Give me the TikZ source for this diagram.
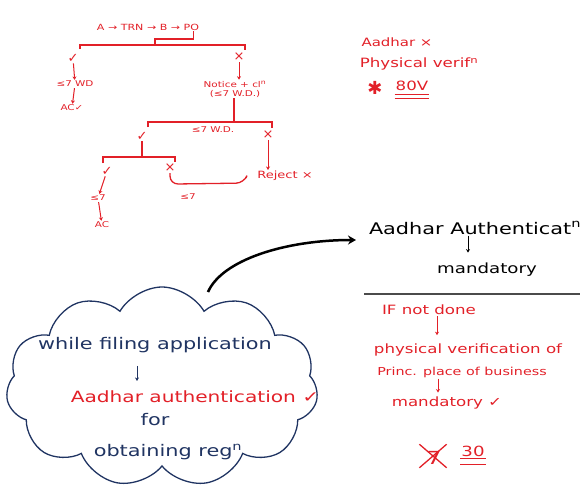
\documentclass[tikz,border=0pt]{standalone}
\usepackage{fontspec}
\setmainfont{DejaVu Sans}
\newfontfamily\hand[FakeStretch=1.3]{DejaVu Sans}
\usetikzlibrary{shapes.symbols,arrows.meta}
\definecolor{inkred}{RGB}{226,32,40}
\definecolor{inkblue}{RGB}{32,52,98}
\definecolor{inkgray}{RGB}{75,75,75}

\begin{document}
\begin{tikzpicture}[x=1pt, y=-1pt,
    treetxt/.style={text=inkred, inner sep=1pt, font=\hand\fontsize{8}{9}\selectfont},
    treemark/.style={text=inkred, inner sep=1pt, font=\fontsize{13}{14}\selectfont},
    rednote/.style={text=inkred, inner sep=1pt, font=\hand\fontsize{12.8}{14}\selectfont},
    blacknote/.style={text=black, inner sep=1pt, font=\hand\fontsize{16}{17}\selectfont},
    bluenote/.style={text=inkblue, inner sep=1pt, font=\hand\fontsize{16}{17}\selectfont},
    treeline/.style={draw=inkred, line width=1.3pt},
    redtip/.style={draw=inkred, line width=1pt, -{Stealth[length=3.5pt,width=4pt]}},
    blacktip/.style={draw=black, line width=0.9pt, -{Stealth[length=3.5pt,width=4pt]}},
    bluetip/.style={draw=inkblue, line width=0.9pt, -{Stealth[length=3.5pt,width=4pt]}}
]
\useasboundingbox (0,0) rectangle (585,493);

% tree
\node[treetxt, font=\hand\fontsize{8.5}{9}\selectfont] (chain) at (148,27) {A → TRN → B → PO};
\draw[treeline] (80,49) -- (80,45) -- (245,45) -- (245,50);
\draw[treeline] (155,45) -- (155,39) -| ([xshift=-7pt]chain.south east);

\node[treemark] (ok1) at (73,58) {✓};
\node[treetxt] (wd1) at (75,84) {≤7 WD};
\node[treetxt] (ac1) at (72,108) {AC✓};
\draw[redtip] (ok1) -- (wd1);
\draw[redtip] (wd1) -- (ac1);

\node[treemark] (no1) at (239,57) {×};
\node[treetxt, align=center] (notice) at (235,89) {Notice + cl\textsuperscript{n}\\(≤7 W.D.)};
\draw[redtip] (no1) -- (no1 |- notice.north);
\draw[treeline] (notice.south -| 234,0) -- (234,122);

\draw[treeline] (148,127) -- (148,122) -- (272,122) -- (272,128);
\node[treetxt] (wd2) at (213,130) {≤7 W.D.};
\node[treemark] (ok2) at (142,136) {✓};
\node[treemark] (no2) at (268,135) {×};
\node[treetxt, font=\hand\fontsize{10}{11}\selectfont] (reject) at (285,176) {Reject ×};
\draw[redtip] (no2) -- (no2 |- reject.north);

\draw[treeline] (ok2.south) -- (ok2.south |- 0,157);
\draw[treeline] (103,163) -- (103,157) -- (175,157) -- (175,162);
\node[treemark] (ok3) at (107,171) {✓};
\node[treemark] (no3) at (170,168) {×};
\node[treetxt] (le7) at (98,198) {≤7};
\node[treetxt] (ac2) at (102,225) {AC};
\draw[redtip] (ok3) -- (le7);
\draw[redtip] (le7) -- (ac2);
\draw[treeline, rounded corners=8pt] (no3.south) -- ++(0,11) -- ++(74,-1) -- ++(2,-5);
\node[treetxt] (le7b) at (188,197) {≤7};

% top right
\node[rednote, font=\hand\fontsize{11.5}{13}\selectfont] (aadharx) at (397,42) {Aadhar ×};
\node[rednote] (physver) at (419,64) {Physical verif\textsuperscript{n}};
\node[rednote, font=\fontsize{18}{19}\selectfont] (star) at (375,88) {✱};
\node[rednote] (eighty) at (412,86) {80V};
\draw[treeline, line width=1pt] ([yshift=-2pt]eighty.south west) -- ([yshift=-2pt]eighty.south east);
\draw[treeline, line width=1pt] ([yshift=-6pt]eighty.south west) -- ([yshift=-6pt]eighty.south east);

% middle right
\node[blacknote] (auth) at (475,228) {Aadhar Authenticat\textsuperscript{n}};
\node[blacknote, font=\hand\fontsize{14}{15}\selectfont] (mand) at (487,270) {mandatory};
\draw[blacktip] ([xshift=-7pt]auth.south) -- ++(0,17);
\draw[inkgray, line width=2pt] (364,294) -- (580,294);

\node[rednote] (ifnot) at (429,310) {IF not done};
\node[rednote] (physv) at (468,350) {physical verification of};
\node[rednote, font=\hand\fontsize{11}{12}\selectfont] (princ) at (462,372) {Princ. place of business};
\node[rednote] (mand2) at (447,403) {mandatory ✓};
\draw[redtip] ([xshift=8pt]ifnot.south) -- ++(0,19);
\draw[redtip] ([xshift=-24pt]princ.south) -- ++(0,14);
\node[rednote, font=\hand\fontsize{18}{19}\selectfont] (seven) at (434,458) {7};
\draw[treeline] ([shift={(-6pt,6pt)}]seven.north west) -- ([shift={(4pt,-2pt)}]seven.south east);
\draw[treeline] ([shift={(4pt,6pt)}]seven.north east) -- ([shift={(-6pt,-2pt)}]seven.south west);
\node[rednote, font=\hand\fontsize{14}{15}\selectfont] (thirty) at (473,451) {30};
\draw[treeline, line width=1.2pt] ([yshift=-1pt]thirty.south west) -- ([yshift=-1pt]thirty.south east);
\draw[treeline, line width=1.2pt] ([yshift=-7pt]thirty.south west) -- ([yshift=-7pt]thirty.south east);

% cloud
\node[cloud, draw=inkblue, line width=1.3pt, cloud puffs=11, cloud puff arc=120,
      cloud ignores aspect, minimum width=312pt, minimum height=200pt] (cloudbox) at (162,387) {};
\node[bluenote] (filing) at (155,345) {while filing application};
\node[rednote, font=\hand\fontsize{15.5}{16}\selectfont] (aauth) at (195,397) {Aadhar authentication ✓};
\node[bluenote] (forw) at (155,420) {for};
\node[bluenote] (obtain) at (168,452) {obtaining reg\textsuperscript{n}};
\draw[bluetip] ([shift={(-18pt,-12pt)}]filing.south) -- ++(0,15);

\coordinate (cloudtop) at (208,292);
\coordinate (authtip) at (356,240);
\draw[black, line width=2.5pt, -{Stealth[length=8pt,width=9pt]}]
    (cloudtop) .. controls (222,260) and (285,240) .. (authtip);
\end{tikzpicture}
\end{document}
